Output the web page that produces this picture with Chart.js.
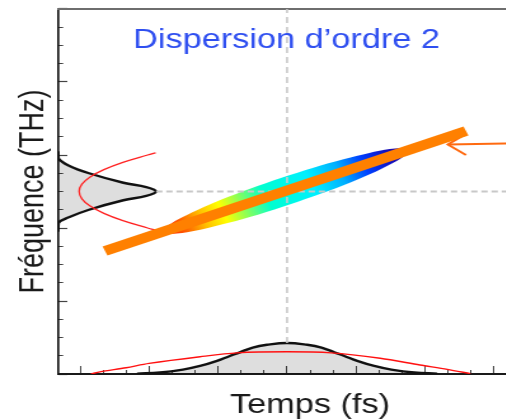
<!DOCTYPE html>
<html>
<head>
<meta charset="utf-8">
<script src="https://cdn.jsdelivr.net/npm/chart.js@4.4.1/dist/chart.umd.min.js"></script>
<style>
  html, body { margin: 0; padding: 0; background: #fff; overflow: hidden; }
</style>
</head>
<body>
<!-- drawn narrow, shown stretched sideways like the original figure -->
<canvas id="wigner" width="451" height="420" style="display:block;width:573px;height:420px"></canvas>
<script>
/* ─── Data ───────────────────────────────────────────────── */
const X_RANGE = [-10, 12];   // time
const Y_RANGE = [0, 5];      // frequency

// spectrum, left margin (drawn sideways)
const specY = [1.95, 2.07, 2.15, 2.25, 2.38, 2.44, 2.5, 2.56, 2.62, 2.75, 2.85, 2.95, 3.05];
const specX = [-10, -9.98, -9.5, -8.65, -7.15, -6.15, -5.72, -6.15, -7.15, -8.65, -9.5, -9.98, -10];
// same spectrum split in halves (x ascending) for the grey fill
const specLoX = [-10, -9.98, -9.5, -8.65, -7.15, -6.15, -5.72];
const specLoY = [1.95, 2.07, 2.15, 2.25, 2.38, 2.44, 2.5];
const specHiX = [-10, -9.98, -9.5, -8.65, -7.15, -6.15, -5.72];
const specHiY = [3.05, 2.95, 2.85, 2.75, 2.62, 2.56, 2.5];

// spectral phase, red parabola on the left
const sphaseY = [1.97, 2.0, 2.1, 2.2, 2.3, 2.4, 2.5, 2.6, 2.7, 2.8, 2.9, 3.0, 3.03];
const sphaseX = [-5.74, -6.09, -7.17, -8.0, -8.6, -8.96, -9.08, -8.96, -8.6, -8.0, -7.17, -6.09, -5.74];

// temporal intensity, bottom
const pulseX = [-6.55, -5.55, -4.55, -3.8, -3.06, -2.5, -2.06, -1.5, -0.88, 0, 0.88, 1.5, 2.06, 2.5, 3.06, 3.8, 4.55, 5.55, 6.55];
const pulseY = [0.005, 0.02, 0.06, 0.11, 0.18, 0.247, 0.297, 0.362, 0.4, 0.425, 0.4, 0.362, 0.297, 0.247, 0.18, 0.11, 0.06, 0.02, 0.005];

// temporal phase, red, bottom
const tphaseX = [-8.56, -8.17, -7.03, -6.03, -3.8, -2.19, 0, 1.92, 4.06, 5.8, 6.99, 8.0];
const tphaseY = [0, 0.03, 0.086, 0.146, 0.237, 0.29, 0.305, 0.29, 0.215, 0.123, 0.064, 0.005];

// chirped pulse: upper / lower edge of the tilted ellipse
const ellUpX = [-5.39, -5.26, -4.77, -3.96, -2.89, -1.62, -0.24, 1.15, 2.46, 3.59, 4.48, 5.06, 5.30];
const ellUpY = [1.949, 2.016, 2.115, 2.241, 2.386, 2.538, 2.689, 2.827, 2.942, 3.029, 3.081, 3.092, 3.064];
const ellLoX = [-5.39, -5.16, -4.58, -3.69, -2.55, -1.24, 0.14, 1.52, 2.79, 3.86, 4.68, 5.16, 5.30];
const ellLoY = [1.949, 1.922, 1.933, 1.984, 2.071, 2.186, 2.325, 2.475, 2.627, 2.771, 2.899, 2.997, 3.064];

// thick orange chirp line
const chirpX = [-7.95, 7.81];
const chirpY = [1.685, 3.329];

// arrow on the right
const arrowX = [7.02, 12];
const arrowY = [3.144, 3.17];
const headX  = [7.81, 7.02, 7.81];
const headY  = [3.29, 3.144, 3.0];

// dashed centre lines
const vDashX = [0, 0];
const vDashY = [0.425, 5];
const hDashX = [-5.72, 12];
const hDashY = [2.5, 2.5];

const JET = [
  [0.00, '#ff1000'], [0.08, '#ff6000'], [0.16, '#ffc000'], [0.24, '#ffff00'],
  [0.33, '#80ff60'], [0.42, '#00ffd0'], [0.60, '#00f0ff'], [0.72, '#00b0ff'],
  [0.82, '#0040ff'], [0.92, '#1010c0'], [1.00, '#400080']
];

/* ─── Helpers ────────────────────────────────────────────── */
const pts = (xs, ys) => xs.map((x, i) => ({ x, y: ys[i] }));

function jetFill(ctx) {
  const chart = ctx.chart;
  const { x, y } = chart.scales;
  if (!chart.chartArea || !x || !y) return 'rgba(0,200,255,0.8)';
  const n = ellUpX.length - 1;
  const g = chart.ctx.createLinearGradient(
    x.getPixelForValue(ellUpX[0]), y.getPixelForValue(ellUpY[0]),
    x.getPixelForValue(ellUpX[n]), y.getPixelForValue(ellUpY[n]));
  JET.forEach(([t, c]) => g.addColorStop(t, c));
  return g;
}

const LINE = { pointRadius: 0, pointHoverRadius: 0 };
const NOLINE = { ...LINE, borderWidth: 0, borderColor: 'rgba(0,0,0,0)' };
const GREY = 'rgba(0,0,0,0.13)';
const FONT = 'Liberation Sans, Arial, sans-serif';

/* ─── Chart ──────────────────────────────────────────────── */
new Chart(document.getElementById('wigner'), {
  type: 'line',
  data: {
    datasets: [
      { ...LINE, data: pts(chirpX, chirpY), borderColor: '#ff8000', borderWidth: 10, borderCapStyle: 'butt', order: 0 },
      { ...LINE, data: pts(arrowX, arrowY), borderColor: '#ff6a10', borderWidth: 2, order: 1 },
      { ...LINE, data: pts(headX, headY), borderColor: '#ff6a10', borderWidth: 2, borderJoinStyle: 'miter', order: 1 },
      { ...LINE, data: pts(vDashX, vDashY), borderColor: '#c8c8c8', borderWidth: 1.6, borderDash: [6, 4], order: 2 },
      { ...LINE, data: pts(hDashX, hDashY), borderColor: '#c8c8c8', borderWidth: 2, borderDash: [5, 3], order: 2 },
      { ...NOLINE, data: pts(ellUpX, ellUpY), backgroundColor: jetFill, fill: '+1', tension: 0.3, order: 3 },
      { ...NOLINE, data: pts(ellLoX, ellLoY), tension: 0.3, order: 3 },
      { ...LINE, data: pts(sphaseX, sphaseY), indexAxis: 'y', borderColor: '#ff2020', borderWidth: 1.3, tension: 0.4, order: 4 },
      { ...LINE, data: pts(tphaseX, tphaseY), borderColor: '#ff1010', borderWidth: 1.4, tension: 0.3, order: 4 },
      { ...LINE, data: pts(specX, specY), indexAxis: 'y', borderColor: '#111', borderWidth: 2.4, tension: 0.4, order: 5 },
      { ...NOLINE, data: pts(specHiX, specHiY), backgroundColor: GREY, fill: '+1', tension: 0.3, order: 6 },
      { ...NOLINE, data: pts(specLoX, specLoY), tension: 0.3, order: 6 },
      { ...LINE, data: pts(pulseX, pulseY), borderColor: '#111', borderWidth: 2.4,
        backgroundColor: GREY, fill: 'origin', tension: 0.4, order: 5 }
    ]
  },
  options: {
    responsive: false,
    devicePixelRatio: 1,
    animation: false,
    events: [],
    layout: { padding: { left: 8.7, right: 8.7, top: 0, bottom: 0 } },
    plugins: {
      legend: { display: false },
      tooltip: { enabled: false },
      title: {
        display: true,
        text: 'Dispersion d’ordre 2',
        color: '#2f4ff0',
        font: { family: FONT, size: 27, weight: 'normal', lineHeight: 1.2 },
        padding: { top: 24.3, bottom: -47.7 }   // sits inside the plot frame
      }
    },
    scales: {
      x: {
        type: 'linear', position: 'bottom', min: X_RANGE[0], max: X_RANGE[1],
        ticks: { display: false, stepSize: 1, includeBounds: false, maxTicksLimit: 100 },
        grid: { drawOnChartArea: false, drawTicks: true, tickLength: -4, color: '#444', tickWidth: 1 },
        border: { color: '#1a1a1a', width: 2 },
        title: { display: true, text: 'Temps (fs)', color: '#1a1a1a',
                 font: { family: FONT, size: 27, lineHeight: 1.2 }, padding: { top: 19.8, bottom: -2.2 } }
      },
      y: {
        type: 'linear', position: 'left', min: Y_RANGE[0], max: Y_RANGE[1],
        ticks: { display: false, stepSize: 0.25, includeBounds: false, maxTicksLimit: 100 },
        grid: { drawOnChartArea: false, drawTicks: true, tickLength: -4, color: '#444', tickWidth: 1 },
        border: { color: '#1a1a1a', width: 1.7 },
        title: { display: true, text: 'Fréquence (THz)', color: '#1a1a1a',
                 font: { family: FONT, size: 27, lineHeight: 1.2 }, padding: { top: 1.3, bottom: 7.3 } }
      },
      xTop: {
        type: 'linear', axis: 'x', position: 'top', min: X_RANGE[0], max: X_RANGE[1],
        ticks: { display: false },
        grid: { display: false, drawTicks: false },
        border: { color: '#6e6e6e', width: 2 }
      },
      xMajor: {
        type: 'linear', axis: 'x', position: { y: 0 }, min: X_RANGE[0], max: X_RANGE[1],
        ticks: { display: false, stepSize: 3, includeBounds: false, maxTicksLimit: 100 },
        grid: { drawOnChartArea: false, drawTicks: true, tickLength: -8, color: '#444', tickWidth: 1 },
        border: { display: false }
      },
      yMajor: {
        type: 'linear', axis: 'y', position: { x: -10 }, min: Y_RANGE[0], max: Y_RANGE[1],
        ticks: { display: false, stepSize: 1, includeBounds: false, maxTicksLimit: 100 },
        grid: { drawOnChartArea: false, drawTicks: true, tickLength: -7, color: '#444', tickWidth: 1.2 },
        border: { display: false }
      }
    }
  }
});
</script>
</body>
</html>
